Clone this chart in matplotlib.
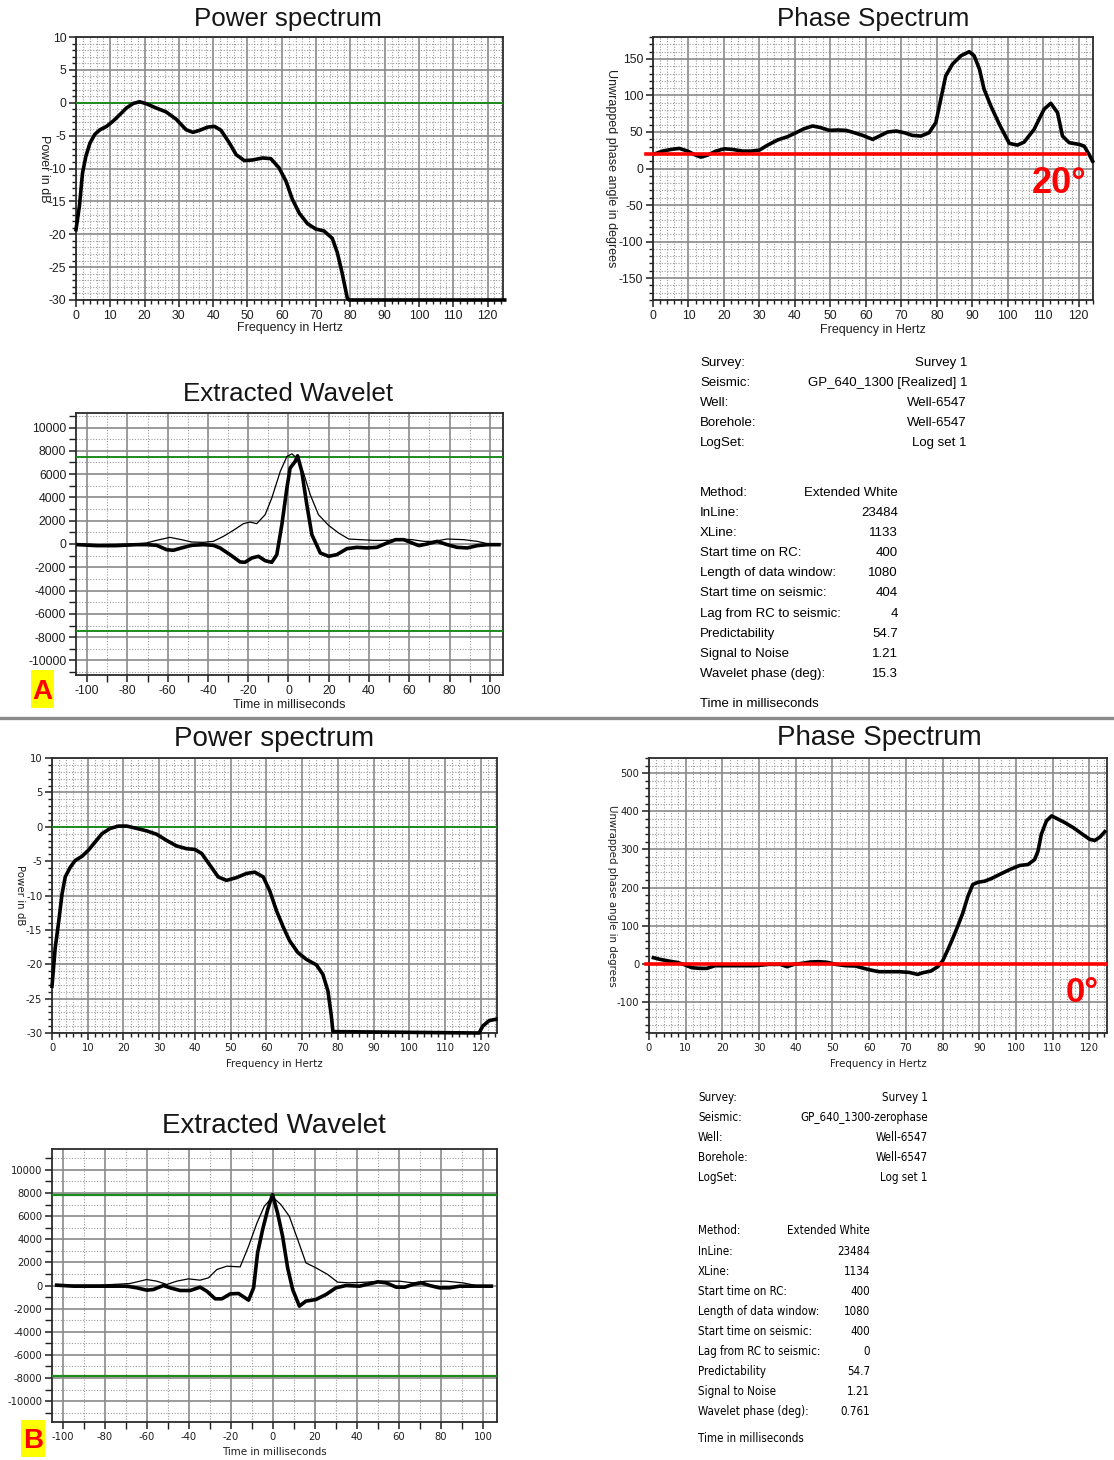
import matplotlib
matplotlib.use("Agg")
import matplotlib.pyplot as plt
from matplotlib.ticker import MultipleLocator
from matplotlib import font_manager
from matplotlib.font_manager import FontProperties
from matplotlib.patches import Rectangle
from matplotlib.lines import Line2D

plt.rcParams["axes.unicode_minus"] = False

# ---------------------------------------------------------------- data (A)
ps_a_freq = [0, 1, 1.9, 2.9, 4.1, 5.5, 7, 8.9, 10.8, 12.8, 14.7, 16.7, 18.6, 20.5,
             23.4, 26.3, 29.2, 32.1, 34.1, 36, 38.4, 40.4, 42.3, 44.7, 46.7, 49.1,
             51.5, 54.4, 56.8, 59.2, 61.2, 63.1, 65.1, 67.5, 69.9, 72.3, 74.7, 76.2,
             77.6, 79.1, 79.6, 125]
ps_a_db = [-19.3, -15.7, -10.7, -8.1, -6.1, -4.8, -4.1, -3.6, -2.8, -1.8, -0.8, -0.1,
           0.15, -0.15, -0.8, -1.4, -2.5, -4.1, -4.5, -4.2, -3.7, -3.6, -4.2, -6.1,
           -7.9, -8.8, -8.7, -8.4, -8.5, -9.9, -11.9, -14.7, -16.8, -18.4, -19.2,
           -19.5, -20.6, -22.8, -25.9, -29.7, -30, -30]

ph_a_freq = [0.8, 2.7, 5.1, 7.4, 9.8, 11.6, 13.5, 15.4, 17.7, 20.1, 22.4, 25.3, 27.6,
             30, 32.3, 35.1, 37.9, 40.3, 42.6, 45, 47.3, 49.7, 52, 54.4, 56.7, 59.1,
             61.9, 64.2, 66.1, 68.5, 70.8, 73.1, 75.5, 77.8, 79.7, 81.1, 82.5, 84.4,
             86.8, 89.1, 90.5, 92, 93.3, 95.2, 97.6, 100.4, 102.7, 104.6, 107.4,
             110.2, 112.1, 114, 115.4, 117.3, 120.1, 121.5, 122.9, 123.9]
ph_a_deg = [20.6, 23.8, 26.1, 27.5, 23.8, 19.2, 15.6, 18.3, 23.8, 27, 26.1, 23.8, 23.8,
            25.2, 32, 39, 43.5, 49, 54.5, 58.2, 55.9, 52.2, 52.7, 52.2, 49, 45.3,
            39.9, 45.3, 49.9, 51.3, 49, 45.3, 44.4, 49, 62.8, 94.8, 126.9, 142.9,
            154.4, 159.9, 154.4, 136, 108.6, 85.7, 60.5, 34.4, 32, 36.2, 53.6, 81.1,
            89.3, 76.5, 44.4, 35.3, 33, 30.7, 19.2, 10]
ph_a_ref = 20

wv_a_t = [-104.5, -95.4, -85.4, -75.5, -70.5, -65.5, -60.5, -57.2, -53.1, -48.1,
          -42.3, -37.3, -34, -29, -24, -21.6, -18.2, -14.9, -11.6, -8.3, -5.8, -3.3,
          -0.8, 0.8, 3.3, 4.5, 6.6, 9.1, 11.6, 15.8, 19.9, 24, 29, 34, 38.9, 43.9,
          48.9, 53.1, 57.2, 61.4, 64.7, 68.8, 73.8, 78.8, 83.7, 88.7, 93.7, 98.7, 104.5]
wv_a_amp = [-57, -140, -140, -57, -57, -114, -486, -540, -340, -114, -57, -114, -340,
            -914, -1543, -1570, -1200, -1057, -1430, -1570, -914, 1657, 4800, 6514,
            7086, 7571, 6229, 3371, 800, -771, -1057, -914, -400, -286, -340, -286,
            86, 371, 371, 86, -140, 0, 228, -57, -286, -340, -140, -57, -57]
wv_a_thin_t = [-104.5, -93.7, -77, -70.5, -65.5, -58.9, -53.1, -48.1, -42.3, -37.3,
               -32.3, -27.4, -22.4, -19.1, -15.8, -11.6, -8.3, -4.1, -0.8, 1.7, 4.1,
               7.5, 10.8, 14.9, 19.9, 24.9, 29.9, 35.7, 42.3, 49.8, 55.6, 61.4, 67.2,
               72.1, 78.8, 87.1, 93.7, 98.7, 104.5]
wv_a_thin_amp = [0, -57, 0, 86, 314, 571, 371, 171, 143, 228, 657, 1171, 1743, 1886,
                 1743, 2514, 3943, 6229, 7514, 7743, 7371, 6086, 4229, 2514, 1600, 943,
                 428, 371, 314, 314, 428, 371, 228, 228, 428, 371, 228, 28, 0]
wv_a_limit = 7500

info_labels_1 = ["Survey:", "Seismic:", "Well:", "Borehole:", "LogSet:"]
info_labels_2 = ["Method:", "InLine:", "XLine:", "Start time on RC:",
                 "Length of data window:", "Start time on seismic:",
                 "Lag from RC to seismic:", "Predictability", "Signal to Noise",
                 "Wavelet phase (deg):"]
info_a_1 = ["Survey 1", "GP_640_1300 [Realized] 1", "Well-6547", "Well-6547", "Log set 1"]
info_a_2 = ["Extended White", "23484", "1133", "400", "1080", "404", "4", "54.7",
            "1.21", "15.3"]

# ---------------------------------------------------------------- data (B)
ps_b_freq = [0, 0.9, 1.9, 2.8, 3.7, 5.1, 6.5, 8.4, 10.2, 12.1, 14, 16.3, 18.6, 20.9,
             23.7, 26.5, 29.3, 32.1, 34.9, 37.7, 40, 41.9, 44.2, 46.5, 48.8, 51.6,
             54.4, 56.7, 59.1, 60.9, 62.8, 64.7, 66.5, 68.8, 71.2, 74, 75.8, 77.2,
             78.1, 78.6, 119.5, 120.5, 122.3, 124.2]
ps_b_db = [-23.2, -17.6, -13.7, -9.8, -7.3, -5.9, -4.9, -4.3, -3.4, -2.2, -1.0, -0.24,
           0.1, 0.1, -0.24, -0.6, -1.1, -2.0, -2.8, -3.2, -3.3, -3.9, -5.6, -7.3,
           -7.8, -7.4, -6.8, -6.6, -7.3, -9.3, -12.2, -14.6, -16.6, -18.3, -19.3,
           -20.1, -21.5, -23.9, -27.3, -29.8, -30, -29, -28.2, -28.0]

ph_b_freq = [1.2, 3, 5.3, 7.6, 9.4, 11.7, 13.9, 15.8, 18, 21.7, 25.3, 29, 32.6, 35.8,
             37.6, 39.5, 41.7, 44, 46.3, 48.6, 50.9, 53.6, 56.3, 58.6, 60.4, 62.7,
             65.5, 68.2, 70.9, 73.2, 74.6, 76.8, 78.7, 80, 81.4, 82.8, 84.1, 85.5,
             86.9, 88.2, 89.6, 91.4, 93.3, 95.5, 98.3, 101, 103.3, 105.1, 106, 106.9,
             108.3, 109.7, 111, 113.3, 115.6, 117.9, 120.1, 121.5, 122.9, 124.2]
ph_b_deg = [15.8, 11.4, 7, 3.5, -1.8, -10.6, -12.3, -12.3, -5.3, -5.3, -5.3, -5.3,
            -1.8, -1.8, -7.9, -1.8, 0.9, 4.4, 5.3, 3.5, -1.8, -5.3, -6.2, -12.3,
            -16.7, -21.1, -21.1, -21.1, -22.9, -28.2, -23.8, -19.4, -7.9, 7, 36, 66.9,
            97.6, 132.8, 176.8, 207.6, 213.8, 216.4, 223.5, 234, 247.2, 257.8, 260.4,
            273.6, 295.6, 339.6, 374.8, 388, 381.8, 370.4, 357.2, 341.3, 326.4,
            323.7, 332.5, 346.6]
ph_b_ref = 0

wv_b_t = [-103, -95, -82.3, -69.6, -64.8, -60.1, -56.9, -52.1, -49, -44.2, -39.4,
          -34.7, -31.5, -27.5, -24.3, -20.3, -16.4, -11.6, -9.2, -7.3, -4.9, -2.5,
          -0.2, 2.2, 4.6, 7, 9.4, 12.6, 15.7, 20.5, 25.3, 30, 34.8, 41.2, 46, 49.9,
          53.9, 58.7, 62.7, 66.6, 70.6, 74.6, 79.3, 84.1, 88.9, 95.3, 104]
wv_b_amp = [29, -58, -58, -58, -201, -403, -345, 0, -201, -432, -432, -144, -489,
            -1151, -1151, -719, -691, -1266, -201, 2820, 4835, 6561, 7856, 6273, 4259,
            1525, -345, -1784, -1353, -1209, -777, -201, 0, -58, 144, 317, 230, -144,
            -144, 86, 230, 0, -201, -201, -58, -58, -58]
wv_b_thin_t = [-103, -82.3, -68, -60.1, -55.3, -50.5, -45.8, -40.2, -34.7, -30.7,
               -26.7, -22, -15.6, -11.6, -7.6, -4.1, -0.2, 3.8, 7.8, 11.8, 15.7, 20.5,
               26.1, 30.8, 36.4, 44.3, 52.3, 60.3, 66.6, 72.9, 82.5, 90.4, 96.8, 104]
wv_b_thin_amp = [29, 29, 173, 518, 374, 86, 374, 576, 460, 662, 1381, 1669, 1612,
                 3396, 5410, 6849, 7655, 6993, 5986, 3971, 1957, 1525, 950, 288, 230,
                 288, 374, 374, 230, 374, 374, 230, 0, 0]
wv_b_limit = 7850

info_b_1 = ["Survey 1", "GP_640_1300-zerophase", "Well-6547", "Well-6547", "Log set 1"]
info_b_2 = ["Extended White", "23484", "1134", "400", "1080", "400", "0", "54.7",
            "1.21", "0.761"]

# ---------------------------------------------------------------- fonts
def available(name):
    try:
        font_manager.findfont(name, fallback_to_default=False)
        return True
    except Exception:
        return False


REG = "Liberation Sans" if available("Liberation Sans") else "DejaVu Sans"


def condensed_font_file():
    """Return the path of an installed narrow/condensed regular sans font, if any."""
    wanted = ["LiberationSansNarrow-Regular", "DejaVuSansCondensed.",
              "RobotoCondensed-Regular", "NotoSans-Condensed.", "OpenSans_Condensed-Regular",
              "OpenSansCondensed", "Narrow", "Condensed"]
    files = [f.fname for f in font_manager.fontManager.ttflist]
    for key in wanted:
        for path in files:
            base = path.split("/")[-1]
            if key in base and "Bold" not in base and "Italic" not in base \
                    and "Oblique" not in base and "Light" not in base:
                return path
    return None


_narrow_path = condensed_font_file()


def narrow_props(size):
    if _narrow_path:
        return FontProperties(fname=_narrow_path, size=size)
    return FontProperties(family=REG, size=size * 0.9)


def reg_props(size):
    return FontProperties(family=REG, size=size)


# ---------------------------------------------------------------- layout helpers
W, H = 1114, 1460
fig = plt.figure(figsize=(W / 100, H / 100), dpi=100)
fig.patch.set_facecolor("white")


def px_axes(l, t, r, b):
    return fig.add_axes([l / W, 1 - b / H, (r - l) / W, (b - t) / H])


def fx(x):
    return x / W


def fy(y):
    return 1 - y / H


def style(ax, box, xlim, ylim, xmaj, xmin, ymaj, ymin, props,
          xlabel, xlabel_y, ylabel=None, ylabel_x=None, minor_len=3):
    tick_fp, label_fp = props
    l, t, r, b = box
    ax.set_xlim(*xlim)
    ax.set_ylim(*ylim)
    ax.xaxis.set_major_locator(MultipleLocator(xmaj))
    ax.xaxis.set_minor_locator(MultipleLocator(xmin))
    ax.yaxis.set_major_locator(MultipleLocator(ymaj))
    ax.yaxis.set_minor_locator(MultipleLocator(ymin))
    ax.grid(which="major", color="#8a8a8a", lw=1.2, ls="-")
    ax.grid(which="minor", color="#9c9c9c", lw=0.8, ls=(0, (1, 1.5)))
    ax.set_axisbelow(True)
    for s in ax.spines.values():
        s.set_color("#2b2b2b")
        s.set_linewidth(1.3)
    ax.tick_params(which="major", length=5, width=1.1, pad=2, colors="#1e1e1e")
    ax.tick_params(which="minor", length=minor_len, width=1.0, colors="#1e1e1e")
    for lab in ax.get_xticklabels() + ax.get_yticklabels():
        lab.set_fontproperties(tick_fp)
    ax.set_xlabel(xlabel, color="#1e1e1e", va="center", fontproperties=label_fp)
    ax.xaxis.set_label_coords(0.5, (b - xlabel_y) / (b - t))
    if ylabel:
        ax.set_ylabel(ylabel, color="#1e1e1e", rotation=270, va="center", ha="center",
                      fontproperties=label_fp)
        ax.yaxis.set_label_coords((ylabel_x - l) / (r - l), 0.5)


def title(x, base, text, size):
    fig.text(fx(x), fy(base), text, ha="center", va="baseline",
             fontsize=size, family=REG, color="#161616")


THICK = dict(color="black", lw=2.6, solid_joinstyle="round", clip_on=False, zorder=5)
THIN = dict(color="black", lw=0.9, clip_on=False, zorder=4)
GREEN = "#1f8a1f"
RED = "#ff0000"

A_PROPS = (reg_props(8.8), reg_props(9))
B_PROPS = (narrow_props(8.0), narrow_props(8.2))

# ================================================================ panel A
box = (76, 37, 503, 300)
ax = px_axes(*box)
style(ax, box, (0, 124.5), (-30, 10), 10, 2, 5, 1, A_PROPS,
      "Frequency in Hertz", 328, "Power in dB", 44)
ax.axhline(0, color=GREEN, lw=1.4, zorder=3)
ax.plot(ps_a_freq, ps_a_db, **THICK)
title(288, 26, "Power spectrum", 18.7)

box = (653, 37, 1093, 300)
ax = px_axes(*box)
style(ax, box, (0, 124), (-180, 180), 10, 2, 50, 10, A_PROPS,
      "Frequency in Hertz", 330, "Unwrapped phase angle in degrees", 611)
ax.plot(ph_a_freq, ph_a_deg, **THICK)
ax.plot([-2, 121.7], [ph_a_ref, ph_a_ref], color=RED, lw=2.6, clip_on=False, zorder=6)
fig.text(fx(1059), fy(193), f"{ph_a_ref}°", color=RED, fontsize=26,
         fontweight="bold", family=REG, ha="center", va="baseline")
title(873, 26, "Phase Spectrum", 18.7)

box = (76, 413, 503, 675)
ax = px_axes(*box)
style(ax, box, (-105.5, 106.5), (-11250, 11250), 20, 10, 2000, 1000, A_PROPS,
      "Time in milliseconds", 705, minor_len=5)
ax.axhline(wv_a_limit, color=GREEN, lw=1.4, zorder=3)
ax.axhline(-wv_a_limit, color=GREEN, lw=1.4, zorder=3)
ax.plot(wv_a_thin_t, wv_a_thin_amp, **THIN)
ax.plot(wv_a_t, wv_a_amp, **THICK)
title(288, 401, "Extracted Wavelet", 18.7)

fig.add_artist(Rectangle((fx(31), fy(708)), 23 / W, 38 / H, transform=fig.transFigure,
                         facecolor="#ffff00", edgecolor="none"))
fig.text(fx(42.5), fy(699), "A", color=RED, fontsize=20, fontweight="bold",
         family=REG, ha="center", va="baseline")


def info_block(x_left, right1, right2, top1, top2, foot, vals1, vals2, fp):
    for i, (lab, val) in enumerate(zip(info_labels_1, vals1)):
        y = fy(top1 + i * 19.9)
        fig.text(fx(x_left), y, lab, fontproperties=fp, va="center", ha="left")
        fig.text(fx(right1), y, val, fontproperties=fp, va="center", ha="right")
    for i, (lab, val) in enumerate(zip(info_labels_2, vals2)):
        y = fy(top2 + i * 20.1)
        fig.text(fx(x_left), y, lab, fontproperties=fp, va="center", ha="left")
        fig.text(fx(right2), y, val, fontproperties=fp, va="center", ha="right")
    fig.text(fx(x_left), fy(foot), "Time in milliseconds", fontproperties=fp,
             va="center", ha="left")


info_block(700, 967, 898, 363, 493, 704, info_a_1, info_a_2, reg_props(9.5))

# separator between the two result sets
fig.add_artist(Line2D([0, 1], [fy(718), fy(718)], transform=fig.transFigure,
                      color="#8a8a8a", lw=2.4))

# ================================================================ panel B
box = (52, 758, 497, 1033)
ax = px_axes(*box)
style(ax, box, (0, 124.5), (-30, 10), 10, 2, 5, 1, B_PROPS,
      "Frequency in Hertz", 1064, "Power in dB", 20)
ax.axhline(0, color=GREEN, lw=1.4, zorder=3)
ax.plot(ps_b_freq, ps_b_db, **THICK)
title(274, 746, "Power spectrum", 20)

box = (649, 758, 1107, 1033)
ax = px_axes(*box)
style(ax, box, (0, 124.8), (-182, 540), 10, 2, 100, 20, B_PROPS,
      "Frequency in Hertz", 1064, "Unwrapped phase angle in degrees", 612)
ax.plot(ph_b_freq, ph_b_deg, **THICK)
ax.plot([-0.9, 124.5], [ph_b_ref, ph_b_ref], color=RED, lw=2.6, clip_on=False, zorder=6)
fig.text(fx(1082), fy(1002), f"{ph_b_ref}°", color=RED, fontsize=25,
         fontweight="bold", family=REG, ha="center", va="baseline")
title(879, 745, "Phase Spectrum", 20)

box = (52, 1149, 497, 1422)
ax = px_axes(*box)
style(ax, box, (-105.2, 106.7), (-11800, 11800), 20, 10, 2000, 1000, B_PROPS,
      "Time in milliseconds", 1452, minor_len=5)
ax.axhline(wv_b_limit, color=GREEN, lw=1.6, zorder=3)
ax.axhline(-wv_b_limit, color=GREEN, lw=1.6, zorder=3)
ax.plot(wv_b_thin_t, wv_b_thin_amp, **THIN)
ax.plot(wv_b_t, wv_b_amp, **THICK)
title(274, 1133, "Extracted Wavelet", 20)

fig.add_artist(Rectangle((fx(21), fy(1457)), 24 / W, 37 / H, transform=fig.transFigure,
                         facecolor="#ffff00", edgecolor="none"))
fig.text(fx(33), fy(1448), "B", color=RED, fontsize=20, fontweight="bold",
         family=REG, ha="center", va="baseline")

info_block(698, 928, 870, 1098, 1231, 1439, info_b_1, info_b_2, narrow_props(8.3))

fig.savefig("out.png", dpi=100, facecolor="white")
